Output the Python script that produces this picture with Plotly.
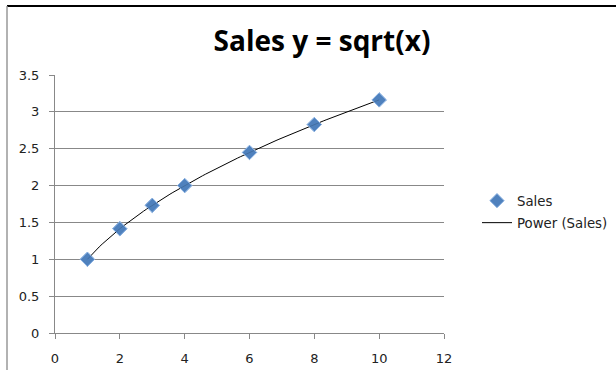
import numpy as np
import plotly.graph_objects as go

x_vals = [1, 2, 3, 4, 6, 8, 10]
sales = [1.0, 1.414, 1.732, 2.0, 2.449, 2.828, 3.162]
x_ticks = [0, 2, 4, 6, 8, 10, 12]
y_ticks = [0, 0.5, 1, 1.5, 2, 2.5, 3, 3.5]

# power trendline fitted from the data (like Excel's Power trendline)
b, log_a = np.polyfit(np.log(x_vals), np.log(sales), 1)
tx = np.linspace(min(x_vals), max(x_vals), 100)
ty = np.exp(log_a) * tx ** b

fig = go.Figure()
fig.add_trace(go.Scatter(
    x=x_vals, y=sales, mode="markers", name="Sales",
    marker=dict(symbol="diamond", size=11, color="#4F81BD",
                line=dict(color="#8DB3E2", width=1)),
    legend="legend"))
fig.add_trace(go.Scatter(
    x=tx, y=ty, mode="lines", name="Power (Sales)",
    line=dict(color="black", width=1), legend="legend2"))
# redraw markers on top of the line
fig.add_trace(go.Scatter(
    x=x_vals, y=sales, mode="markers", showlegend=False, hoverinfo="skip",
    marker=dict(symbol="diamond", size=11, color="rgba(79,129,189,0.85)",
                line=dict(color="#8DB3E2", width=1))))

tick_font = dict(family="DejaVu Sans, sans-serif", size=13, color="#222")
leg_font = dict(family="DejaVu Sans, sans-serif", size=13.3, color="#222")

L, T, W, H = 55, 75, 389, 258

fig.update_layout(
    width=616, height=372,
    margin=dict(l=L, r=616 - L - W, t=T, b=372 - T - H, autoexpand=False),
    paper_bgcolor="white", plot_bgcolor="white",
    title=dict(text="<b>Sales y = sqrt(x)</b>", x=322/616, xanchor="center",
               y=1 - 41/372, yanchor="middle",
               font=dict(family="Open Sans, sans-serif", size=28, color="black")),
    xaxis=dict(range=[0, 12], tickvals=x_ticks, showgrid=False, zeroline=False,
               showline=True, linecolor="#888", linewidth=1,
               ticks="outside", ticklen=5, tickcolor="#888",
               ticklabelstandoff=8, automargin=False,
               tickfont=tick_font, fixedrange=True),
    yaxis=dict(range=[0, 3.5], tickvals=y_ticks, showgrid=True, gridcolor="#888",
               gridwidth=1, zeroline=False, showline=True, linecolor="#888",
               linewidth=1, ticks="outside", ticklen=5, tickcolor="#888",
               ticklabelstandoff=7, automargin=False,
               tickfont=tick_font, fixedrange=True),
    legend=dict(x=(477 - L) / W, xanchor="left", y=1 - (201 - T) / H,
                yanchor="middle", font=leg_font, bgcolor="rgba(0,0,0,0)",
                borderwidth=0),
    legend2=dict(x=(477 - L) / W, xanchor="left", y=1 - (223 - T) / H,
                 yanchor="middle", font=leg_font, bgcolor="rgba(0,0,0,0)",
                 borderwidth=0),
    shapes=[
        dict(type="line", xref="paper", yref="paper",
             x0=(7 - L) / W, x1=(620 - L) / W,
             y0=1 + (T - 6) / H, y1=1 + (T - 6) / H,
             line=dict(color="black", width=2)),
        dict(type="line", xref="paper", yref="paper",
             x0=(7 - L) / W, x1=(7 - L) / W,
             y0=1 + (T - 6) / H, y1=-(370 - (T + H)) / H,
             line=dict(color="#999", width=1.5)),
    ],
)

fig.write_html("out.html", config={"displayModeBar": False},
               post_script="document.body.style.margin='0';")
